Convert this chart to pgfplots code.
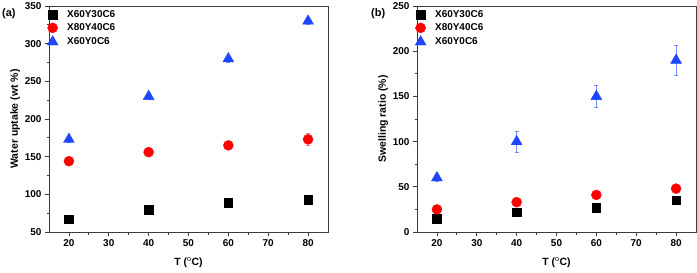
\documentclass[border=0pt]{standalone}
\usepackage{pgfplots}
\pgfplotsset{compat=1.18}
\usepackage{fontspec}
\setmainfont{Liberation Sans}
\definecolor{myblue}{RGB}{30,70,255}
\definecolor{ebblue}{RGB}{120,140,255}
\definecolor{ebred}{RGB}{255,120,120}
\definecolor{axgray}{RGB}{60,60,60}
\pgfplotsset{
  mystyle/.style={
    scale only axis, width=279bp, height=226bp,
    xmin=15, xmax=85, xtick={20,30,...,80},
    minor x tick num=1, minor y tick num=1,
    tick align=outside, tick pos=left,
    major tick length=4bp, minor tick length=2.5bp,
    axis line style={axgray, line width=0.9pt},
    every tick/.style={axgray, line width=0.8pt},
    /pgf/number format/assume math mode=true,
    tick label style={font=\fontsize{10}{11}\selectfont\bfseries},
    label style={font=\fontsize{10.5}{12}\selectfont\bfseries},
    xlabel={T ($^{\mathrm{o}}$C)},
    xlabel style={yshift=-4bp},
    legend style={draw=none, fill=none, at={(0.0,1.0)}, anchor=north west,
      xshift=-3bp, yshift=-1.5bp,
      font=\fontsize{10}{11}\selectfont\bfseries, row sep=2bp, inner sep=1pt,
      nodes={inner sep=1.5bp}},
    legend cell align=left,
    legend image code/.code={\draw[#1] plot coordinates {(0cm,0cm)};\path (0.45cm,0) (0,0);},
    error bars/y dir=both, error bars/y explicit,
  },
  sq/.style={draw=black, fill=black, only marks, mark=square*, mark size=4.3bp,
    mark options={draw=black, fill=black},
    error bars/error bar style={black, line width=0.6pt}, error bars/error mark options={rotate=90, mark size=2bp, black}},
  ci/.style={draw=red, fill=red, only marks, mark=*, mark size=5bp,
    mark options={draw=red, fill=red},
    error bars/error bar style={ebred, line width=0.6pt}, error bars/error mark options={rotate=90, mark size=2bp, ebred}},
  tr/.style={draw=myblue, fill=myblue, only marks, mark=triangle*, mark size=6.3bp,
    mark options={draw=myblue, fill=myblue},
    error bars/error bar style={ebblue, line width=0.6pt}, error bars/error mark options={rotate=90, mark size=2bp, ebblue}},
}
\begin{document}
\begin{tikzpicture}[x=1bp,y=1bp]
\useasboundingbox (0,0) rectangle (697,272);
\begin{axis}[mystyle, at={(49bp,40bp)}, anchor=south west,
  ymin=50, ymax=350, ytick={50,100,...,350},
  ylabel={Water uptake (wt \%)}, ylabel style={yshift=-2bp}]
\addplot[sq] coordinates {(20,67) +- (0,2) (40,80) +- (0,3) (60,89) +- (0,4) (80,93) +- (0,5)};
\addlegendentry{X60Y30C6}
\addplot[ci] coordinates {(20,144) +- (0,2) (40,156) +- (0,3) (60,165) +- (0,3) (80,173) +- (0,8)};
\addlegendentry{X80Y40C6}
\addplot[tr] coordinates {(20,173) +- (0,4) (40,230) +- (0,4) (60,280) +- (0,4) (80,330) +- (0,4)};
\addlegendentry{X60Y0C6}
\end{axis}
\node[anchor=north west, font=\fontsize{11}{12}\selectfont\bfseries, inner sep=0pt] at (2,264) {(a)};
\begin{axis}[mystyle, at={(417bp,40bp)}, anchor=south west,
  ymin=0, ymax=250, ytick={0,50,...,250},
  ylabel={Swelling ratio (\%)}, ylabel style={yshift=-2bp}]
\addplot[sq] coordinates {(20,15) +- (0,1) (40,22) +- (0,1) (60,27) +- (0,1) (80,35) +- (0,1)};
\addlegendentry{X60Y30C6}
\addplot[ci] coordinates {(20,25) +- (0,1) (40,33) +- (0,1) (60,41) +- (0,1) (80,48) +- (0,1)};
\addlegendentry{X80Y40C6}
\addplot[tr] coordinates {(20,60) +- (0,4) (40,100) +- (0,12) (60,150) +- (0,12) (80,190) +- (0,17)};
\addlegendentry{X60Y0C6}
\end{axis}
\node[anchor=north west, font=\fontsize{11}{12}\selectfont\bfseries, inner sep=0pt] at (371,264) {(b)};
\end{tikzpicture}
\end{document}
